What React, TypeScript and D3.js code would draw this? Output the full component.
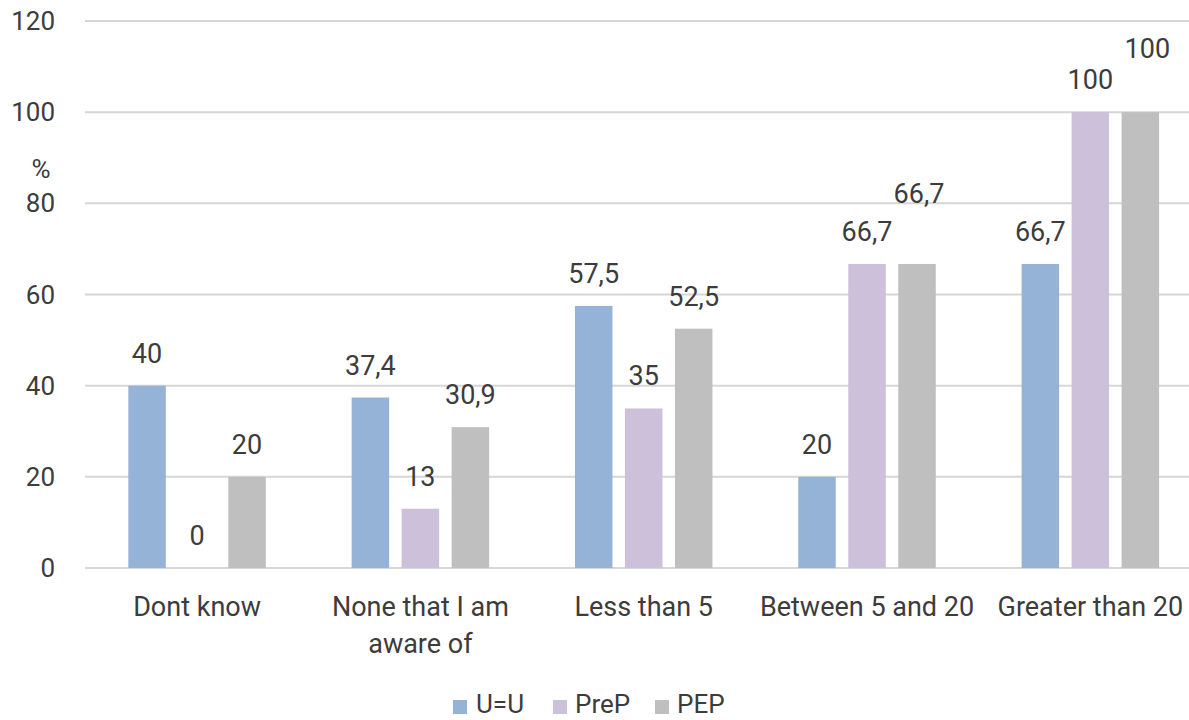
import React from "react";
import * as d3 from "d3";

const categories = ["Dont know", "None that I am aware of", "Less than 5", "Between 5 and 20", "Greater than 20"];
const categoryLines = [["Dont know"], ["None that I am", "aware of"], ["Less than 5"], ["Between 5 and 20"], ["Greater than 20"]];
const seriesNames = ["U=U", "PreP", "PEP"];
const uuValues = [40, 37.4, 57.5, 20, 66.7];
const prepValues = [0, 13, 35, 66.7, 100];
const pepValues = [20, 30.9, 52.5, 66.7, 100];
const yTicks = [0, 20, 40, 60, 80, 100, 120];
const colors = ["#95b3d7", "#ccc0da", "#bfbfbf"];

// label nudges (pixels) used in the original to avoid overlaps: [series][category]
const labelLift = [[0, 0, 0, 0, 0], [0, 0, 0, 0, 0], [0, 0, 0, 38, 31]];
const labelShiftX = [[0, 0, 0, 0, 0], [0, 0, 0, 0, 0], [0, 0, 0, 2, 7]];

const W = 1189;
const H = 720;
const FONT = "Roboto, 'Open Sans', sans-serif";
const TEXT = "#3c3c3c";

const fmt = (v: number) => String(v).replace(".", ",");

export default function App() {
  const values = [uuValues, prepValues, pepValues];
  const x = d3.scaleBand<string>().domain(categories).range([85.4, 1202]).paddingInner(0).paddingOuter(0);
  const bw = x.bandwidth();
  const xi = d3
    .scaleBand<string>()
    .domain(seriesNames)
    .range([bw / 2 - 75, bw / 2 + 75])
    .paddingInner(0.25)
    .paddingOuter(0.125);
  const y = d3.scaleLinear().domain([0, 120]).range([568, 21]);

  const legendItems = [
    { sx: 453, tx: 476 },
    { sx: 553, tx: 575 },
    { sx: 655, tx: 677 },
  ];

  return (
    <svg width={W} height={H} style={{ position: "absolute", left: 0, top: 0, background: "#fff" }} fontFamily={FONT}>
      <rect width={W} height={H} fill="#fff" />
      {yTicks.map((t) => (
        <g key={t}>
          <line x1={85} x2={W} y1={y(t)} y2={y(t)} stroke="#d6d6d6" strokeWidth={2} />
          <text x={55} y={y(t)} dy="0.35em" textAnchor="end" fontSize={26} fill={TEXT}>
            {t}
          </text>
        </g>
      ))}
      <text x={41} y={178} textAnchor="middle" fontSize={26} fill={TEXT}>
        %
      </text>
      {categories.map((c, ci) => (
        <g key={c} transform={`translate(${x(c)},0)`}>
          {seriesNames.map((s, si) => {
            const v = values[si][ci];
            const bx = xi(s)!;
            return (
              <g key={s}>
                <rect x={bx} y={y(v)} width={xi.bandwidth()} height={y(0) - y(v)} fill={colors[si]} />
                <text
                  x={bx + xi.bandwidth() / 2 + labelShiftX[si][ci]}
                  y={y(v) - 23 - labelLift[si][ci]}
                  textAnchor="middle"
                  fontSize={27}
                  fill={TEXT}
                >
                  {fmt(v)}
                </text>
              </g>
            );
          })}
          {categoryLines[ci].map((ln, li) => (
            <text key={li} x={bw / 2} y={616 + li * 37} textAnchor="middle" fontSize={27} fill={TEXT}>
              {ln}
            </text>
          ))}
        </g>
      ))}
      {seriesNames.map((s, si) => (
        <g key={s}>
          <rect x={legendItems[si].sx} y={700} width={14} height={14} fill={colors[si]} />
          <text x={legendItems[si].tx} y={713} fontSize={26} fill={TEXT}>
            {s}
          </text>
        </g>
      ))}
    </svg>
  );
}
